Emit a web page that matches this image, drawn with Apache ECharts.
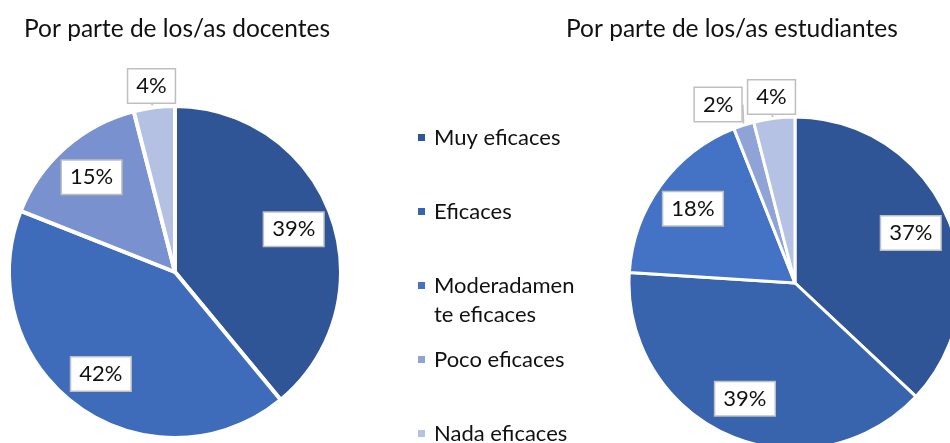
<!DOCTYPE html>
<html>
<head>
<meta charset="utf-8">
<title>Eficacia</title>
<script src="https://cdn.jsdelivr.net/npm/echarts@6/dist/echarts.min.js"></script>
<style>
  html, body { margin: 0; padding: 0; background: #fff; }
  #chart { width: 950px; height: 443px; }
</style>
</head>
<body>
<div id="chart"></div>
<script>
const categories = ['Muy eficaces', 'Eficaces', 'Moderadamente eficaces', 'Poco eficaces', 'Nada eficaces'];
const legendLabels = ['Muy eficaces', 'Eficaces', 'Moderadamen\nte eficaces', 'Poco eficaces', 'Nada eficaces'];
const legendColors = ['#2F5597', '#3864AE', '#4473C5', '#8FA3D6', '#B5C2E4'];

const docentesNames = ['Muy eficaces', 'Eficaces', 'Poco eficaces', 'Nada eficaces'];
const docentesValues = [39, 42, 15, 4];
const docentesColors = ['#2F5597', '#3E6BBA', '#7991CF', '#B4C1E2'];

const estudiantesNames = categories;
const estudiantesValues = [37, 39, 18, 2, 4];
const estudiantesColors = legendColors;

const titles = ['Por parte de los/as docentes', 'Por parte de los/as estudiantes'];

const FONT = 'Lato';
const R = 166;
const leftCenter = [175, 272];
const rightCenter = [795, 283];
const LINE = 29;

const chart = echarts.init(document.getElementById('chart'));

// callouts: small slices outside the pie, the rest at ~3/4 radius
function calloutLayout(values, center) {
  const total = values.reduce((a, b) => a + b, 0);
  const place = function (idx) {
    let before = 0;
    for (let i = 0; i < idx; i++) before += values[i];
    const v = values[idx];
    const mid = (before + v / 2) / total * Math.PI * 2;
    const k = v < 5 ? 1.13 : 0.76;
    return [center[0] + Math.sin(mid) * R * k, center[1] - Math.cos(mid) * R * k];
  };
  return function (params) {
    const idx = params.dataIndex;
    let [x, y] = place(idx);
    // keep neighbouring small callouts from overlapping
    if (values[idx] < 5 && idx + 1 < values.length && values[idx + 1] < 5) {
      const nx = place(idx + 1)[0];
      const minGap = params.labelRect.width + 4;
      if (nx - x < minGap) x = nx - minGap;
    }
    return { x: x, y: y, align: 'center', verticalAlign: 'middle' };
  };
}

function pieSeries(names, values, colors, center, gap) {
  return {
    type: 'pie',
    center: center,
    radius: R,
    startAngle: 90,
    clockwise: true,
    avoidLabelOverlap: false,
    emphasis: { disabled: true },
    itemStyle: { borderColor: '#fff', borderWidth: gap },
    label: {
      show: true,
      position: 'outside',
      formatter: '{c}%',
      color: '#111',
      fontFamily: FONT,
      fontSize: 22,
      backgroundColor: '#fff',
      borderColor: '#BFBFBF',
      borderWidth: 1.5,
      padding: [6, 8, 5, 8]
    },
    labelLine: {
      show: true,
      length: 5,
      length2: 0,
      lineStyle: { color: '#BFBFBF', width: 1.5 }
    },
    labelLayout: calloutLayout(values, center),
    data: values.map((v, i) => ({
      name: names[i],
      value: v,
      itemStyle: { color: colors[i] }
    }))
  };
}

const titleStyle = { fontFamily: FONT, fontSize: 24.5, fontWeight: 'normal', color: '#111' };

const option = {
  animation: false,
  title: [
    { text: titles[0], left: 19, top: 12, textStyle: titleStyle },
    { text: titles[1], left: 561, top: 12, textStyle: titleStyle }
  ],
  legend: {
    orient: 'vertical',
    left: 416,
    top: 94,
    height: 600,
    padding: 0,
    itemGap: 74 - 3 * LINE,
    itemWidth: 9,
    itemHeight: 9,
    icon: 'rect',
    selectedMode: false,
    // three text lines per entry so the marker always sits on the first line of text
    formatter: function (name) {
      const lines = legendLabels[categories.indexOf(name)].split('\n');
      return ' \n' + lines.join('\n') + (lines.length < 2 ? '\n ' : '');
    },
    textStyle: {
      fontFamily: FONT,
      fontSize: 22,
      color: '#111',
      lineHeight: LINE,
      padding: [0, 0, 0, 3]
    },
    data: categories.map((c, i) => ({ name: c, itemStyle: { color: legendColors[i] } }))
  },
  series: [
    pieSeries(estudiantesNames, estudiantesValues, estudiantesColors, rightCenter, 3),
    pieSeries(docentesNames, docentesValues, docentesColors, leftCenter, 4)
  ]
};

chart.setOption(option);
</script>
</body>
</html>
